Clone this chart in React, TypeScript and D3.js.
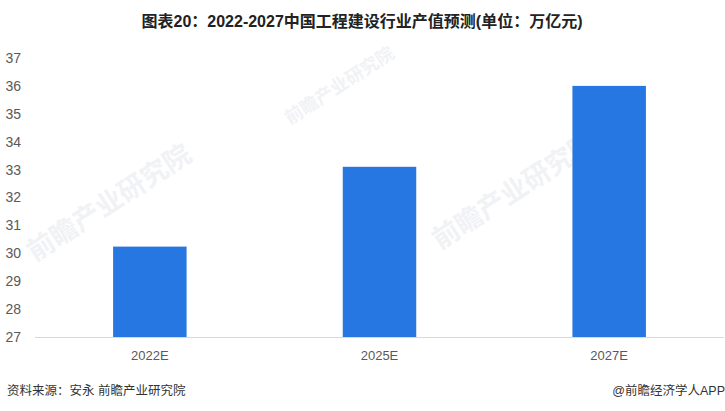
import React, { useEffect, useRef } from "react";
import * as d3 from "d3";

const categories = ["2022E", "2025E", "2027E"];
const values = [30.24, 33.1, 36.0];
const yTicks = [27, 28, 29, 30, 31, 32, 33, 34, 35, 36, 37];
const titleText = "图表20：2022-2027中国工程建设行业产值预测(单位：万亿元)";
const sourceText = "资料来源：安永 前瞻产业研究院";
const brandText = "@前瞻经济学人APP";

const W = 725;
const H = 411;
const FONT = "'Liberation Sans', Arial, 'Noto Sans CJK SC', sans-serif";

export default function App() {
  const ref = useRef<SVGSVGElement>(null);

  useEffect(() => {
    const svg = d3.select(ref.current);
    svg.selectAll("*").remove();

    const x = d3.scaleBand().domain(categories).range([35, 724]).paddingInner(0.68).paddingOuter(0.34);
    const y = d3.scaleLinear().domain([27, 37]).range([337, 58]);

    // watermarks
    const wm = svg.append("g").attr("fill", "#f1f2f5").attr("font-family", FONT).attr("font-weight", "bold");
    const marks = [
      { x: 35, y: 262, s: 27 },
      { x: 440, y: 250, s: 27 },
      { x: 290, y: 125, s: 18 },
    ];
    marks.forEach((m) => {
      wm.append("text")
        .attr("transform", `translate(${m.x},${m.y}) rotate(-33)`)
        .attr("font-size", m.s)
        .text("前瞻产业研究院");
    });

    // title
    svg.append("text")
      .attr("x", 362)
      .attr("y", 27)
      .attr("text-anchor", "middle")
      .attr("font-family", FONT)
      .attr("font-size", 16)
      .attr("font-weight", "bold")
      .attr("fill", "#222")
      .text(titleText);

    // y tick labels
    svg.append("g")
      .selectAll("text")
      .data(yTicks)
      .join("text")
      .attr("x", 21)
      .attr("y", (d) => y(d))
      .attr("dy", "0.35em")
      .attr("text-anchor", "end")
      .attr("font-family", FONT)
      .attr("font-size", 14)
      .attr("fill", "#595959")
      .text((d) => d);

    // bars
    svg.append("g")
      .selectAll("rect")
      .data(values)
      .join("rect")
      .attr("x", (_, i) => x(categories[i])!)
      .attr("width", x.bandwidth())
      .attr("y", (d) => y(d))
      .attr("height", (d) => y(27) - y(d))
      .attr("fill", "#2677E1");

    // x axis line
    svg.append("line")
      .attr("x1", 35)
      .attr("x2", 724)
      .attr("y1", y(27) + 0.5)
      .attr("y2", y(27) + 0.5)
      .attr("stroke", "#d9d9d9")
      .attr("stroke-width", 1);

    // x labels
    svg.append("g")
      .selectAll("text")
      .data(categories)
      .join("text")
      .attr("x", (d) => x(d)! + x.bandwidth() / 2)
      .attr("y", 355)
      .attr("dy", "0.35em")
      .attr("text-anchor", "middle")
      .attr("font-family", FONT)
      .attr("font-size", 13)
      .attr("fill", "#595959")
      .text((d) => d);

    // footer
    svg.append("text")
      .attr("x", 7)
      .attr("y", 391)
      .attr("dy", "0.35em")
      .attr("font-family", FONT)
      .attr("font-size", 12.5)
      .attr("fill", "#333")
      .text(sourceText);

    svg.append("text")
      .attr("x", 725)
      .attr("y", 391)
      .attr("dy", "0.35em")
      .attr("text-anchor", "end")
      .attr("font-family", FONT)
      .attr("font-size", 12.5)
      .attr("fill", "#333")
      .text(brandText);
  }, []);

  return (
    <svg
      ref={ref}
      width={W}
      height={H}
      style={{ position: "absolute", left: 0, top: 0, background: "#fff" }}
    />
  );
}
